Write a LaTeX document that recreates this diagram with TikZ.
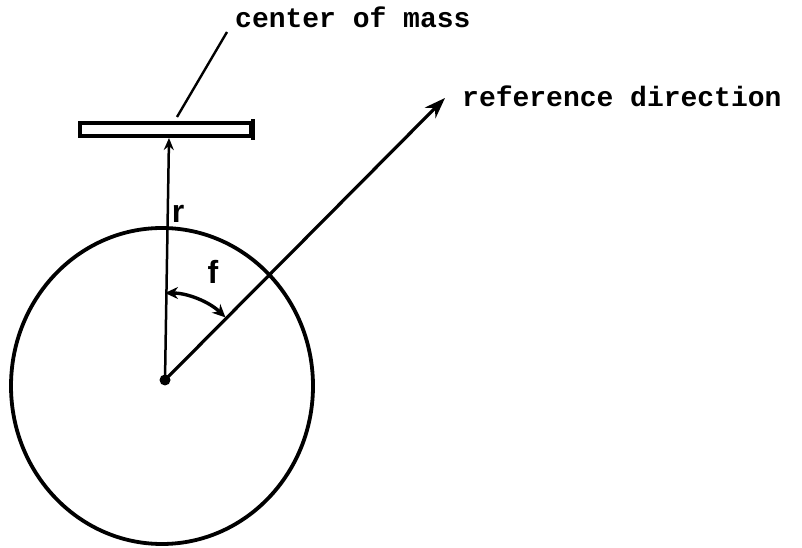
\documentclass[tikz,border=0pt]{standalone}
\usepackage{fontspec}
\setmonofont{Liberation Mono}
\setsansfont{Liberation Sans}
\usetikzlibrary{arrows.meta}

\begin{document}
\begin{tikzpicture}[x=1pt,y=1pt,
	label text/.style={font=\fontsize{28}{30}\selectfont\ttfamily\bfseries,inner sep=0pt},
	letter/.style={font=\fontsize{32}{34}\selectfont\sffamily\bfseries,inner sep=0pt}]
	\useasboundingbox (0,0) rectangle (802,548);

	\coordinate (O) at (165,168);
	\coordinate (cm) at (169,410);
	\coordinate (tip) at (445,450);
	\coordinate (lead) at (177,431);
	
	\draw[line width=3.8pt] (162,162) ellipse [x radius=151, y radius=158];
	
	\draw[line width=3.2pt] (80,412) rectangle (251,425);
	\draw[line width=4pt] (252.5,408) -- (252.5,429);
	
	\draw[line width=2.5pt,-{Stealth[length=12pt,width=10pt]}] (O) -- (cm);
	\draw[line width=3.2pt,-{Stealth[length=21pt,width=15pt]}] (O) -- (tip);
	\draw[line width=3.4pt,{Stealth[length=13pt,width=12pt]}-{Stealth[length=13pt,width=12pt]}] ([shift={(90:87)}]O) arc (90:46:87);
	\fill (O) circle (5.5);
	
	\node[label text,anchor=base west] (com) at (235,520) {center of mass};
	\node[label text,anchor=base west] (ref) at (462,441) {reference direction};
	\draw[line width=2.4pt] (lead) -- (227,516);
	
	\node[letter] (r) at (178,334) {r};
	\node[letter] (f) at (213,276) {f};
	
\end{tikzpicture}
\end{document}
